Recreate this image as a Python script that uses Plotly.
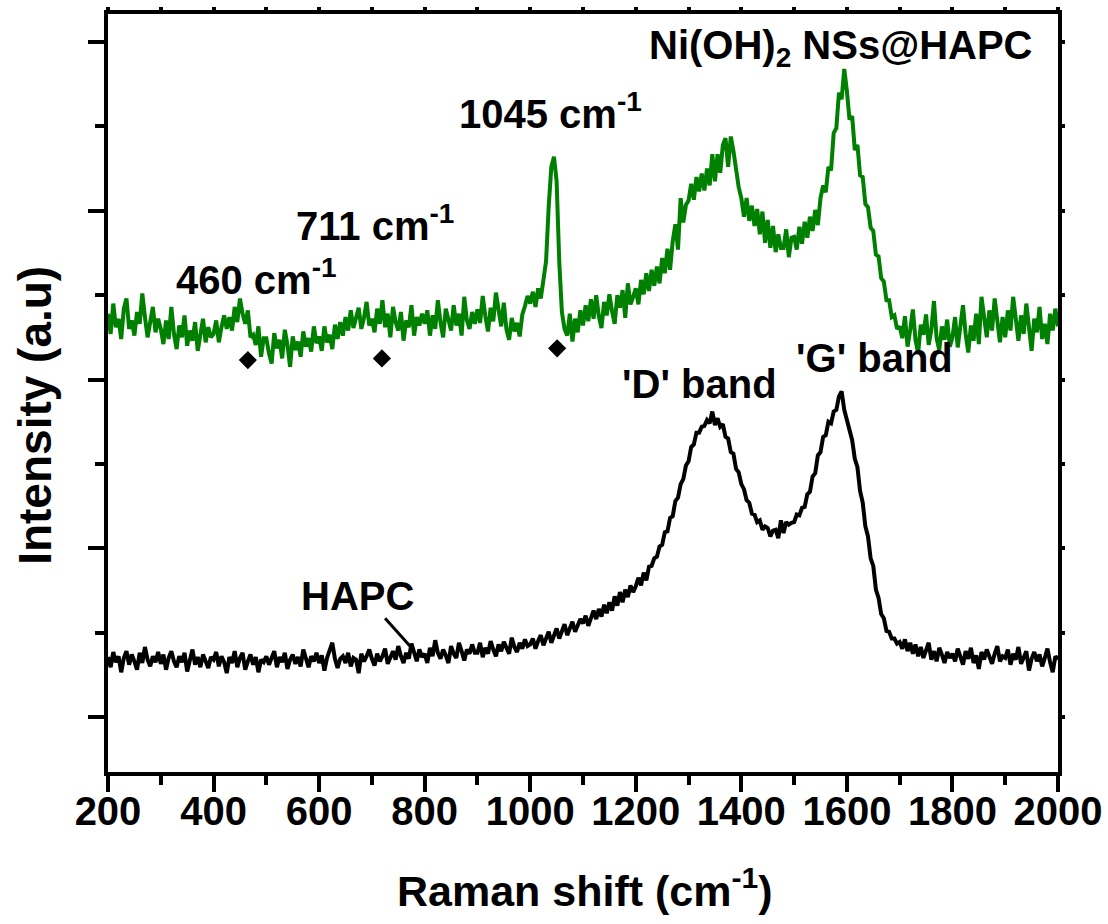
import numpy as np
import plotly.graph_objects as go

# Raman shift axis (cm^-1), step 5
raman_shift = list(range(200, 2001, 5))

# Ni(OH)2 NSs@HAPC (green), arbitrary intensity units (offset for display)
nioh_hapc = [
    578, 554, 590, 562, 572, 548, 584, 596, 560, 570, 552, 580, 566, 602, 574, 550, 568, 586, 556, 572,
    560, 542, 570, 548, 586, 554, 536, 564, 550, 576, 540, 558, 546, 568, 534, 556, 572, 544, 562, 550,
    554, 570, 544, 562, 576, 560, 574, 558, 586, 568, 596, 578, 566, 582, 550, 553, 541, 563, 527, 549,
    549, 531, 519, 555, 537, 547, 525, 559, 541, 515, 551, 535, 545, 527, 557, 539, 549, 533, 563, 543,
    551, 534, 563, 544, 553, 536, 565, 548, 568, 552, 574, 558, 582, 561, 572, 585, 560, 573, 592, 564,
    572, 556, 584, 566, 594, 562, 578, 550, 586, 568, 558, 580, 546, 570, 562, 588, 552, 574, 564, 578,
    566, 582, 552, 576, 560, 594, 568, 550, 584, 572, 558, 588, 564, 578, 552, 598, 570, 560, 580, 566,
    583, 567, 599, 575, 557, 585, 569, 603, 579, 563, 591, 559, 547, 573, 557, 567, 551, 577, 587, 599,
    590, 604, 586, 608, 596, 618, 640, 705, 752, 764, 735, 640, 580, 560, 552, 578, 545, 572, 556, 582,
    564, 588, 569, 595, 572, 600, 575, 561, 592, 576, 601, 581, 566, 600, 585, 606, 573, 614, 589, 598,
    608, 589, 618, 601, 626, 605, 630, 611, 634, 614, 644, 626, 655, 630, 664, 684, 654, 715, 686, 707,
    712, 732, 713, 740, 723, 744, 724, 750, 730, 767, 735, 767, 745, 778, 786, 752, 788, 771, 745, 728,
    715, 693, 715, 688, 706, 682, 702, 672, 699, 662, 689, 656, 682, 651, 672, 656, 656, 678, 645, 668,
    669, 654, 681, 661, 687, 668, 693, 676, 701, 683, 715, 730, 722, 752, 748, 792, 798, 840, 832, 868,
    842, 808, 812, 772, 778, 742, 740, 708, 704, 680, 676, 648, 646, 620, 616, 594, 594, 574, 576, 560,
    563, 549, 575, 539, 559, 583, 547, 531, 565, 553, 577, 541, 559, 593, 549, 535, 563, 547, 571, 539,
    550, 574, 538, 562, 588, 554, 532, 564, 546, 578, 542, 598, 570, 550, 582, 558, 596, 566, 544, 574,
    550, 582, 558, 598, 568, 546, 576, 554, 590, 564, 534, 572, 556, 586, 548, 566, 542, 578, 558, 584,
    563,
]

# HAPC (black)
hapc = [
    171, 159, 177, 165, 172, 153, 170, 178, 162, 174, 166, 156, 176, 164, 183, 168, 160, 172, 165, 177,
    163, 174, 156, 170, 178, 166, 159, 172, 165, 176, 154, 168, 180, 162, 171, 159, 174, 166, 158, 171,
    168, 177, 160, 172, 165, 152, 171, 164, 178, 159, 170, 176, 156, 166, 174, 162, 171, 153, 168, 165,
    172, 162, 170, 178, 159, 171, 165, 176, 157, 168, 174, 163, 171, 160, 180, 168, 159, 172, 166, 176,
    164, 173, 155, 170, 178, 188, 169, 158, 169, 172, 164, 176, 160, 170, 168, 152, 175, 166, 172, 180,
    169, 161, 175, 166, 172, 181, 163, 171, 178, 168, 184, 172, 164, 176, 169, 187, 175, 166, 180, 171,
    175, 164, 182, 172, 191, 176, 169, 180, 173, 164, 184, 175, 170, 188, 178, 167, 180, 175, 186, 176,
    176, 188, 171, 182, 175, 190, 180, 172, 186, 178, 189, 181, 175, 194, 183, 177, 188, 181, 192, 184,
    186, 193, 181, 190, 197, 185, 194, 201, 188, 198, 205, 193, 202, 210, 197, 206, 213, 201, 210, 216,
    211, 220, 208, 218, 226, 216, 228, 219, 233, 223, 236, 226, 243, 232, 248, 236, 251, 242, 256, 248,
    255, 265, 256, 271, 262, 278, 279, 288, 290, 302, 304, 319, 320, 336, 338, 356, 360, 376, 382, 398,
    403, 420, 423, 437, 437, 444, 445, 452, 448, 462, 446, 454, 444, 447, 432, 430, 414, 412, 394, 390,
    376, 370, 357, 354, 341, 340, 331, 333, 322, 326, 324, 314, 321, 322, 312, 333, 318, 331, 328, 330,
    331, 340, 339, 348, 349, 364, 367, 385, 389, 410, 414, 432, 434, 450, 448, 462, 464, 480, 486, 464,
    452, 437, 428, 406, 396, 368, 354, 326, 314, 288, 279, 251, 241, 222, 217, 202, 201, 193, 193, 187,
    189, 181, 192, 178, 188, 175, 186, 172, 183, 170, 180, 188, 168, 178, 166, 182, 174, 164, 177, 170,
    175, 166, 181, 171, 162, 178, 169, 182, 164, 173, 157, 177, 168, 180, 171, 163, 175, 184, 166, 172,
    170, 180, 162, 175, 168, 183, 163, 172, 178, 155, 169, 177, 166, 174, 160, 170, 181, 165, 153, 172,
    168,
]

# Diamond markers (Ni(OH)2 bands)
marker_x = [465, 719, 1051]
marker_y = [523, 525, 537]

x_ticks = list(range(200, 2001, 200))
x_range = [200, 2000]
y_range = [34.8, 933.2]

FONT = "Liberation Sans, Arial, sans-serif"
FS = 40

fig = go.Figure()
fig.add_trace(go.Scatter(x=raman_shift, y=hapc, mode="lines",
                         line=dict(color="black", width=4), showlegend=False))
fig.add_trace(go.Scatter(x=raman_shift, y=nioh_hapc, mode="lines",
                         line=dict(color="#008000", width=4), showlegend=False))
fig.add_trace(go.Scatter(x=marker_x, y=marker_y, mode="markers",
                         marker=dict(symbol="diamond", size=14, color="black"),
                         showlegend=False))
# invisible trace for the mirror (top/right) axes
fig.add_trace(go.Scatter(x=[None], y=[None], xaxis="x2", yaxis="y2",
                         showlegend=False, hoverinfo="skip"))

fig.update_layout(
    width=1108, height=924,
    margin=dict(l=108, r=50, t=14, b=152),
    paper_bgcolor="white", plot_bgcolor="white",
    font=dict(family=FONT, size=FS, color="black", weight="bold"),
    xaxis=dict(
        range=x_range, tickmode="array", tickvals=x_ticks,
        ticktext=[str(v) for v in x_ticks], automargin=False,
        ticks="outside", ticklen=16, tickwidth=4, tickcolor="black",
        ticklabelstandoff=-15,
        showline=True, linewidth=4, linecolor="black",
        showgrid=False, zeroline=False,
        tickfont=dict(family=FONT, size=FS, weight="bold"),
        minor=dict(dtick=100, tick0=200, ticks="outside", ticklen=9,
                   tickwidth=4, tickcolor="black", showgrid=False),
    ),
    yaxis=dict(
        range=y_range, tick0=100, dtick=200, automargin=False,
        ticks="outside", ticklen=16, tickwidth=4, tickcolor="black",
        showticklabels=False,
        showline=True, linewidth=4, linecolor="black",
        showgrid=False, zeroline=False,
        minor=dict(dtick=200, tick0=0, ticks="outside", ticklen=9,
                   tickwidth=4, tickcolor="black", showgrid=False),
    ),
    xaxis2=dict(
        range=x_range, overlaying="x", side="top", anchor="y", automargin=False,
        dtick=100, tick0=200, ticks="outside", ticklen=3, tickwidth=4,
        tickcolor="black", showticklabels=False,
        showline=True, linewidth=4, linecolor="black",
        showgrid=False, zeroline=False,
    ),
    yaxis2=dict(
        range=y_range, overlaying="y", side="right", anchor="x", automargin=False,
        dtick=100, tick0=0, ticks="outside", ticklen=3, tickwidth=4,
        tickcolor="black", showticklabels=False,
        showline=True, linewidth=4, linecolor="black",
        showgrid=False, zeroline=False,
    ),
)

# axis titles as annotations (placed in paper coordinates)
fig.add_annotation(x=0.502, y=-0.153, xref="paper", yref="paper",
                   text="Raman shift (cm<sup>-1</sup>)", showarrow=False,
                   font=dict(family=FONT, size=43, color="black", weight="bold"),
                   xanchor="center", yanchor="middle")
fig.add_annotation(x=-0.077, y=0.471, xref="paper", yref="paper",
                   text="Intensity (a.u)", showarrow=False, textangle=-90,
                   font=dict(family=FONT, size=46, color="black", weight="bold"),
                   xanchor="center", yanchor="middle")

ann_font = dict(family=FONT, size=FS, color="black", weight="bold")
annotations = [
    ("Ni(OH)<sub>2</sub> NSs@HAPC", 1589, 893),
    ("1045 cm<sup>-1</sup>", 1039, 818),
    ("711 cm<sup>-1</sup>", 706, 686),
    ("460 cm<sup>-1</sup>", 482, 621),
    ("'D' band", 1320, 495),
    ("'G' band", 1653, 525),
    ("HAPC", 672, 243),
]
for text, ax_, ay_ in annotations:
    fig.add_annotation(x=ax_, y=ay_, xref="x", yref="y", text=text,
                       showarrow=False, font=ann_font,
                       xanchor="center", yanchor="middle")

# pointer line for HAPC label
fig.add_shape(type="line", x0=725, y0=217, x1=778, y1=180,
              xref="x", yref="y", line=dict(color="black", width=3))

fig.write_html("out.html")
